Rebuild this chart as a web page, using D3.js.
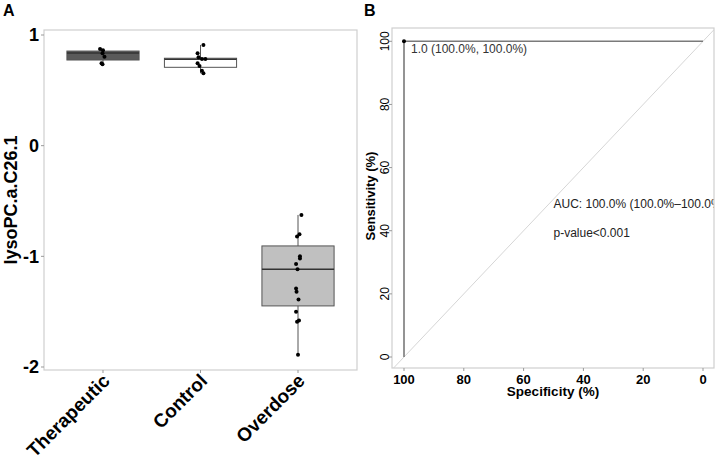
<!DOCTYPE html>
<html>
<head>
<meta charset="utf-8">
<script src="https://cdn.jsdelivr.net/npm/d3@7"></script>
<style>
  body { margin: 0; background: #fff; }
  text { font-family: "Liberation Sans", Arial, sans-serif; }
</style>
</head>
<body>
<div id="chart"></div>
<script>
// ---------------------------------------------------------------------------
// data

var groups = ["Therapeutic", "Control", "Overdose"];
var boxFill = ["#5a5a5a", "#ffffff", "#c0c0c0"];

// box stats per group
var q1 =        [0.774, 0.708, -1.448];
var medians =   [0.837, 0.780, -1.117];
var q3 =        [0.855, 0.790, -0.906];
var whiskLow =  [0.735, 0.654, -1.890];
var whiskHigh = [0.874, 0.910, -0.626];

// jittered observations (value, horizontal jitter in category widths)
var therapeuticPts = [0.874, 0.862, 0.835, 0.804, 0.744, 0.735];
var therapeuticJit = [-0.03, 0.0, -0.005, 0.015, -0.015, -0.005];
var controlPts = [0.910, 0.835, 0.800, 0.783, 0.783, 0.744, 0.720, 0.678, 0.654];
var controlJit = [0.03, -0.03, -0.02, 0.015, 0.05, -0.03, -0.01, 0.015, 0.03];
var overdosePts = [-0.626, -0.800, -0.820, -1.000, -1.020, -1.070, -1.117, -1.290,
                   -1.320, -1.390, -1.500, -1.580, -1.590, -1.890];
var overdoseJit = [0.035, 0.015, -0.01, 0.02, 0.02, -0.02, -0.005, -0.02,
                   -0.015, 0.005, -0.02, 0.01, -0.01, 0.0];

var yTicksA = [1, 0, -1, -2];

// ROC curve (specificity %, sensitivity %)
var rocSpec = [100, 100, 0];
var rocSens = [0, 100, 100];
var bestSpec = 100, bestSens = 100;
var bestLabel = "1.0 (100.0%, 100.0%)";
var aucLabel = "AUC: 100.0% (100.0%\u2013100.0%)";
var pLabel = "p-value<0.001";
var rocTicks = [0, 20, 40, 60, 80, 100];

// ---------------------------------------------------------------------------

var W = 719, H = 461;
var svg = d3.select("#chart").append("svg")
    .attr("width", W).attr("height", H);

var grid = "#cfcfcf";

//////////////////////////// panel A

var pa = {left: 44, right: 357, top: 30, bottom: 370};

var xA = d3.scalePoint().domain(groups).range([pa.left, pa.right]).padding(0.605);
var yA = d3.scaleLinear().domain([-2, 1]).range([367, 35]);
var step = xA.step();
var boxW = step * 0.74;

var gA = svg.append("g");

gA.append("rect")
    .attr("x", pa.left).attr("y", pa.top)
    .attr("width", pa.right - pa.left).attr("height", pa.bottom - pa.top)
    .attr("fill", "none").attr("stroke", grid).attr("stroke-width", 1.2);

// y ticks
var yAx = gA.append("g").selectAll("g").data(yTicksA).enter().append("g");
yAx.append("line")
    .attr("x1", pa.left - 3).attr("x2", pa.left)
    .attr("y1", function(d) { return yA(d); }).attr("y2", function(d) { return yA(d); })
    .attr("stroke", "#999");
yAx.append("text")
    .attr("x", pa.left - 5).attr("y", function(d) { return yA(d); })
    .attr("dy", "0.36em")
    .attr("text-anchor", "end")
    .attr("font-size", 18).attr("font-weight", "bold")
    .text(function(d) { return d; });

// x ticks
var xAx = gA.append("g").selectAll("g").data(groups).enter().append("g");
xAx.append("line")
    .attr("x1", function(d) { return xA(d); }).attr("x2", function(d) { return xA(d); })
    .attr("y1", pa.bottom).attr("y2", pa.bottom + 3)
    .attr("stroke", "#999");
xAx.append("text")
    .attr("transform", function(d) { return "translate(" + (xA(d) + 8) + "," + (pa.bottom + 12) + ") rotate(-45)"; })
    .attr("text-anchor", "end")
    .attr("font-size", 19).attr("font-weight", "bold")
    .text(function(d) { return d; });

gA.append("text")
    .attr("transform", "translate(17," + ((pa.top + pa.bottom) / 2) + ") rotate(-90)")
    .attr("text-anchor", "middle")
    .attr("font-size", 18).attr("font-weight", "bold")
    .text("lysoPC.a.C26.1");

// boxes
var boxes = gA.append("g").selectAll("g").data(groups).enter().append("g");
boxes.append("line")
    .attr("x1", function(d) { return xA(d); }).attr("x2", function(d) { return xA(d); })
    .attr("y1", function(d, i) { return yA(whiskLow[i]); })
    .attr("y2", function(d, i) { return yA(whiskHigh[i]); })
    .attr("stroke", "#555").attr("stroke-width", 1);
boxes.append("rect")
    .attr("x", function(d) { return xA(d) - boxW / 2; })
    .attr("y", function(d, i) { return yA(q3[i]); })
    .attr("width", boxW)
    .attr("height", function(d, i) { return yA(q1[i]) - yA(q3[i]); })
    .attr("fill", function(d, i) { return boxFill[i]; })
    .attr("stroke", "#555").attr("stroke-width", 1);
boxes.append("line")
    .attr("x1", function(d) { return xA(d) - boxW / 2; })
    .attr("x2", function(d) { return xA(d) + boxW / 2; })
    .attr("y1", function(d, i) { return yA(medians[i]); })
    .attr("y2", function(d, i) { return yA(medians[i]); })
    .attr("stroke", "#333").attr("stroke-width", 1.5);

// points
var allPts = [therapeuticPts, controlPts, overdosePts];
var allJit = [therapeuticJit, controlJit, overdoseJit];
var pts = [];
allPts.forEach(function(arr, gi) {
    arr.forEach(function(v, j) { pts.push({g: groups[gi], v: v, j: allJit[gi][j]}); });
});
gA.append("g").selectAll("circle").data(pts).enter().append("circle")
    .attr("cx", function(d) { return xA(d.g) + d.j * step; })
    .attr("cy", function(d) { return yA(d.v); })
    .attr("r", 2)
    .attr("fill", "#000");

gA.append("text")
    .attr("x", 3).attr("y", 16)
    .attr("font-size", 16).attr("font-weight", "bold")
    .text("A");

//////////////////////////// panel B

var pb = {left: 392, right: 714, top: 28, bottom: 368};

var xB = d3.scaleLinear().domain([100, 0]).range([404, 703]);
var yB = d3.scaleLinear().domain([0, 100]).range([357, 41.3]);

var gB = svg.append("g");

gB.append("clipPath").attr("id", "clipB")
    .append("rect")
    .attr("x", pb.left).attr("y", pb.top)
    .attr("width", pb.right - pb.left).attr("height", pb.bottom - pb.top);

var inner = gB.append("g").attr("clip-path", "url(#clipB)");

// identity diagonal across the panel
var dLo = xB.invert(pb.left), dHi = xB.invert(pb.right);
inner.append("line")
    .attr("x1", xB(dLo)).attr("y1", yB(100 - dLo))
    .attr("x2", xB(dHi)).attr("y2", yB(100 - dHi))
    .attr("stroke", "#d6d6d6").attr("stroke-width", 1);

var roc = rocSpec.map(function(s, i) { return [s, rocSens[i]]; });
inner.append("path")
    .attr("d", d3.line().x(function(d) { return xB(d[0]); }).y(function(d) { return yB(d[1]); })(roc))
    .attr("fill", "none").attr("stroke", "#7a7a7a").attr("stroke-width", 1.6);

inner.append("circle")
    .attr("cx", xB(bestSpec)).attr("cy", yB(bestSens)).attr("r", 2)
    .attr("fill", "#000");

inner.append("text")
    .attr("x", xB(bestSpec) + 7).attr("y", yB(bestSens) + 12)
    .attr("font-size", 12).attr("fill", "#333")
    .text(bestLabel);

inner.append("text")
    .attr("x", xB(50)).attr("y", yB(48.5)).attr("dy", "0.35em")
    .attr("font-size", 12).attr("fill", "#222")
    .text(aucLabel);
inner.append("text")
    .attr("x", xB(50)).attr("y", yB(39.3)).attr("dy", "0.35em")
    .attr("font-size", 12).attr("fill", "#222")
    .text(pLabel);

gB.append("rect")
    .attr("x", pb.left).attr("y", pb.top)
    .attr("width", pb.right - pb.left).attr("height", pb.bottom - pb.top)
    .attr("fill", "none").attr("stroke", grid).attr("stroke-width", 1.2);

// y axis (rotated labels)
var yBx = gB.append("g").selectAll("g").data(rocTicks).enter().append("g");
yBx.append("line")
    .attr("x1", pb.left - 3).attr("x2", pb.left)
    .attr("y1", function(d) { return yB(d); }).attr("y2", function(d) { return yB(d); })
    .attr("stroke", "#999");
yBx.append("text")
    .attr("transform", function(d) { return "translate(389," + yB(d) + ") rotate(-90)"; })
    .attr("text-anchor", "middle")
    .attr("font-size", 12)
    .text(function(d) { return d; });

// x axis
var xBx = gB.append("g").selectAll("g").data(rocTicks).enter().append("g");
xBx.append("line")
    .attr("x1", function(d) { return xB(d); }).attr("x2", function(d) { return xB(d); })
    .attr("y1", pb.bottom).attr("y2", pb.bottom + 3)
    .attr("stroke", "#999");
xBx.append("text")
    .attr("x", function(d) { return xB(d); }).attr("y", 384)
    .attr("text-anchor", "middle")
    .attr("font-size", 13).attr("font-weight", "bold")
    .text(function(d) { return d; });

gB.append("text")
    .attr("x", (pb.left + pb.right) / 2 + 0).attr("y", 396)
    .attr("text-anchor", "middle")
    .attr("font-size", 13.5).attr("font-weight", "bold")
    .text("Specificity (%)");

gB.append("text")
    .attr("transform", "translate(375," + ((pb.top + pb.bottom) / 2 - 2) + ") rotate(-90)")
    .attr("text-anchor", "middle")
    .attr("font-size", 13).attr("font-weight", "bold")
    .text("Sensitivity (%)");

gB.append("text")
    .attr("x", 364).attr("y", 16)
    .attr("font-size", 16).attr("font-weight", "bold")
    .text("B");
</script>
</body>
</html>
